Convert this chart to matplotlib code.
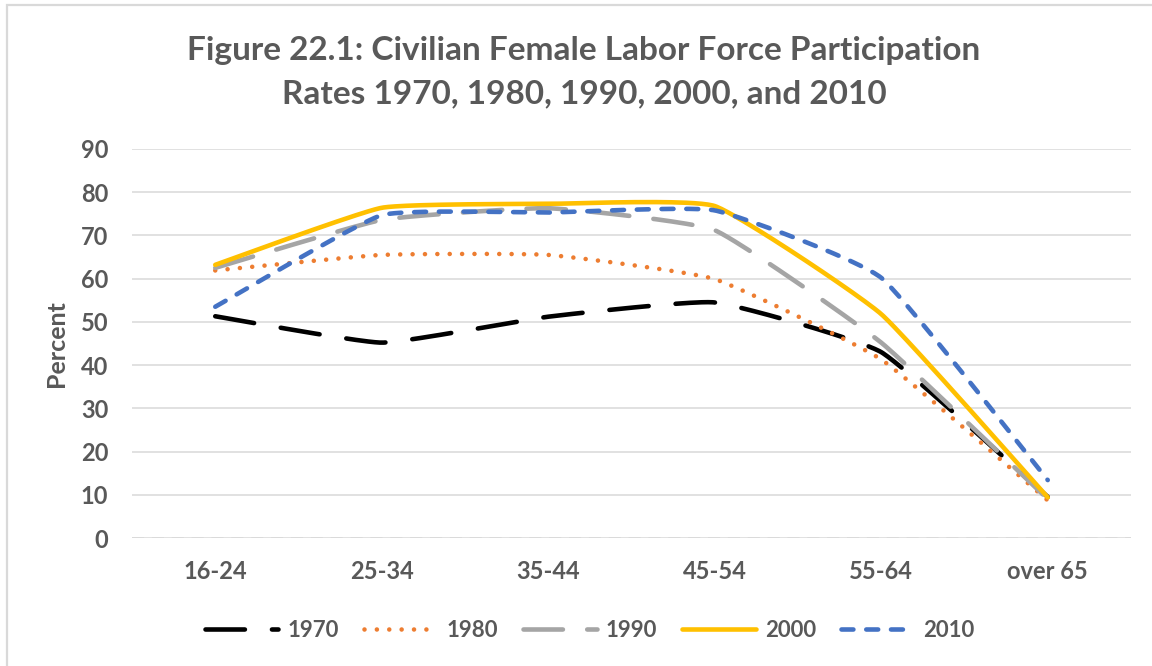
import numpy as np
import matplotlib
matplotlib.use("Agg")
import matplotlib.pyplot as plt
from matplotlib.patches import Rectangle

plt.rcParams['font.family'] = ['Lato', 'DejaVu Sans']

age_groups = ["16-24", "25-34", "35-44", "45-54", "55-64", "over 65"]
years = ["1970", "1980", "1990", "2000", "2010"]
rate_1970 = [51.3, 45.2, 51.2, 54.5, 43.0, 9.5]
rate_1980 = [61.9, 65.5, 65.5, 59.9, 41.3, 8.7]
rate_1990 = [62.5, 73.6, 76.3, 71.2, 45.2, 9.0]
rate_2000 = [63.2, 76.4, 77.3, 76.8, 51.8, 9.4]
rate_2010 = [53.5, 74.7, 75.3, 75.8, 60.2, 13.4]

text_col = "#595959"
grid_col = "#d9d9d9"


def smooth(xs, ys, k=15.0, n=40):
    # smoothed line: bezier through the points, control pts from neighbours
    pts = np.column_stack([xs, ys]).astype(float)
    out = [pts[0]]
    for i in range(len(pts) - 1):
        p0 = pts[i]
        p3 = pts[i + 1]
        prev = pts[i - 1] if i > 0 else pts[i]
        nxt = pts[i + 2] if i + 2 < len(pts) else pts[i + 1]
        p1 = p0 + (p3 - prev) / k
        p2 = p3 - (nxt - p0) / k
        t = np.linspace(0, 1, n)[1:, None]
        seg = ((1 - t) ** 3) * p0 + 3 * ((1 - t) ** 2) * t * p1 + 3 * (1 - t) * t ** 2 * p2 + t ** 3 * p3
        out.extend(seg)
    out = np.array(out)
    return out[:, 0], out[:, 1]


fig = plt.figure(figsize=(11.52, 6.66), dpi=100)
ax = fig.add_axes([132 / 1152, 128 / 666, 999 / 1152, 389 / 666])

x = np.arange(len(age_groups))
styles = [
    (rate_1970, "#000000", (8.6, 5.9)),
    (rate_1980, "#ED7D31", (0.001, 2.7)),
    (rate_1990, "#A5A5A5", (8.6, 5.3)),
    (rate_2000, "#FFC000", None),
    (rate_2010, "#4472C4", (2.6, 2.8)),
]
for (vals, col, dash), yr in zip(styles, years):
    sx, sy = smooth(x, vals)
    line, = ax.plot(sx, sy, color=col, lw=3.3, label=yr,
                    solid_capstyle="round", dash_capstyle="round", solid_joinstyle="round")
    if dash is not None:
        line.set_dashes(dash)

ax.set_xlim(-0.5, len(age_groups) - 0.5)
ax.set_ylim(0, 90)
ax.set_yticks(range(0, 91, 10))
ax.set_xticks(x)
ax.set_xticklabels(age_groups)
ax.grid(axis="y", color=grid_col, lw=1.1)
ax.set_axisbelow(True)
for s in ["top", "right", "left", "bottom"]:
    ax.spines[s].set_visible(False)
ax.axhline(0, color=grid_col, lw=1.1, dashes=(8, 5), zorder=0.5)
ax.tick_params(length=0, labelsize=17, labelcolor=text_col)
ax.tick_params(axis="y", pad=17)
ax.tick_params(axis="x", pad=16)
for lab in ax.get_xticklabels() + ax.get_yticklabels():
    lab.set_fontweight("bold")
ax.set_ylabel("Percent", fontsize=18, fontweight="bold", color=text_col, labelpad=9)

fig.text(0.507, 0.891, "Figure 22.1: Civilian Female Labor Force Participation\nRates 1970, 1980, 1990, 2000, and 2010",
         ha="center", va="center", fontsize=24, fontweight="bold", color=text_col, linespacing=1.6)

leg = ax.legend(loc="center", bbox_to_anchor=(0.512, 0.054), bbox_transform=fig.transFigure,
                ncol=5, frameon=False, handlelength=3.3, handletextpad=0.4, columnspacing=1.15,
                prop={"size": 16, "weight": "bold"})
for t in leg.get_texts():
    t.set_color(text_col)

fig.patches.append(Rectangle((6.5 / 1152, -0.05), 1.1, 1 - 5.5 / 666 + 0.05, transform=fig.transFigure,
                             fill=False, edgecolor=grid_col, lw=1.6))

fig.savefig("out.png", dpi=100)
